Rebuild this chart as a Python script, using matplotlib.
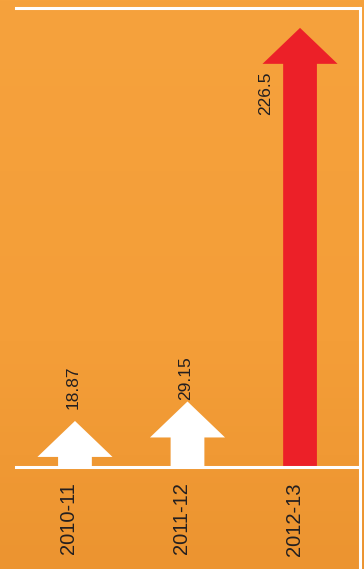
import matplotlib.pyplot as plt
import numpy as np
from matplotlib.patches import FancyArrow
from matplotlib.lines import Line2D
from matplotlib import colors as mcolors

years = ["2010-11", "2011-12", "2012-13"]
values = [18.87, 29.15, 226.5]
value_labels = ["18.87", "29.15", "226.5"]
arrow_colors = ["#FFFFFF", "#FFFFFF", "#EC2028"]

text_color = "#231F20"
floor = -5.45   # axis floor, where every arrow starts

fig = plt.figure(figsize=(3.64, 5.69), dpi=100)

# orange backdrop with a soft vertical shading
bg = fig.add_axes([0, 0, 1, 1])
top = np.array(mcolors.to_rgb("#F6A23D"))
mid = np.array(mcolors.to_rgb("#F49E38"))
bot = np.array(mcolors.to_rgb("#EC9430"))
t = np.linspace(0, 1, 200)[:, None]
col = np.where(t < 0.6, top + (mid - top) * (t / 0.6), mid + (bot - mid) * ((t - 0.6) / 0.4))
img = np.repeat(col[:, None, :], 10, axis=1)
bg.imshow(img, aspect="auto", extent=[0, 1, 0, 1])
bg.set_axis_off()

ax = fig.add_axes([16 / 364, 102 / 569, 343 / 364, 459 / 569])
ax.patch.set_alpha(0)
ax.set_xlim(-0.524, 2.524)
ax.set_ylim(floor, 237.0)

x = np.arange(len(years))
for xi, v, c in zip(x, values, arrow_colors):
    ax.add_patch(FancyArrow(xi, floor, 0, v - floor, width=0.30,
                            head_width=0.667, head_length=19,
                            length_includes_head=True, color=c, lw=0))

# value labels above the small arrows, beside the shaft of the big one
offsets = [(-2, 12, "bottom"), (-2, 1, "bottom"), (-34, -44, "top")]
for xi, v, lab, (dx, dy, va) in zip(x, values, value_labels, offsets):
    ax.annotate(lab, xy=(xi, v), xytext=(dx, dy), textcoords="offset pixels",
                rotation=90, ha="center", va=va, fontsize=12.5,
                family="Liberation Sans", color=text_color)

for xi, lab in zip(x, years):
    ax.annotate(lab, xy=(xi, floor), xytext=(-6, -15), textcoords="offset pixels",
                rotation=90, ha="center", va="top", fontsize=14.5,
                family="Liberation Sans", color=text_color, annotation_clip=False)

ax.spines["left"].set_visible(False)
ax.spines["right"].set_visible(False)
for side in ["top", "bottom"]:
    ax.spines[side].set_color("white")
    ax.spines[side].set_linewidth(2.2)
ax.set_xticks([])
ax.set_yticks([])

# right frame line runs down to the bottom edge
fig.add_artist(Line2D([359.5 / 364, 359.5 / 364], [0, 1 - 8 / 569],
                      color="white", lw=2.2, transform=fig.transFigure))

fig.savefig("out.png", dpi=100)
